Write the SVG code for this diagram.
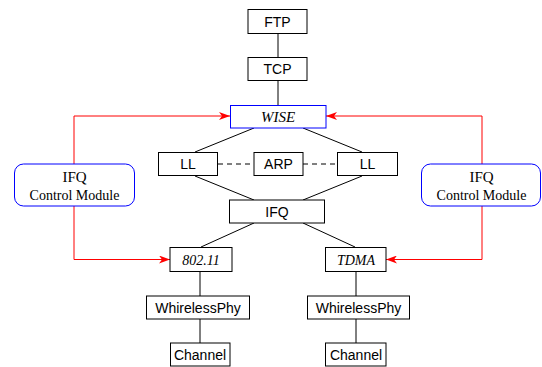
<svg xmlns="http://www.w3.org/2000/svg" width="542" height="367" viewBox="0 0 542 367">
<defs>
<style>
.box{fill:#fff;stroke:#000;stroke-width:1}
.blue{fill:#fff;stroke:#0000ff;stroke-width:1}
.t{font-family:"Liberation Sans",Arial,sans-serif;font-size:14px;text-anchor:middle;fill:#000}
.s{font-family:"Liberation Serif","Times New Roman",serif;font-size:14px;text-anchor:middle;fill:#000}
.i{font-family:"Liberation Serif","Times New Roman",serif;font-style:italic;font-size:14px;text-anchor:middle;fill:#000}
.ln{stroke:#000;stroke-width:1;fill:none}
.red{stroke:#ff0000;stroke-width:1;fill:none;marker-end:url(#ah)}
</style>
<marker id="ah" markerWidth="12" markerHeight="8" refX="11" refY="4" orient="auto" markerUnits="userSpaceOnUse">
<path d="M0,0 L11,4 L0,8 L3,4 Z" fill="#ff0000"/>
</marker>
</defs>
<rect width="542" height="367" fill="#fff"/>
<g id="connectors">
<line class="ln" x1="278" y1="33" x2="278" y2="57"/>
<line class="ln" x1="278" y1="81" x2="278" y2="105"/>
<line class="ln" x1="254" y1="128" x2="195" y2="152"/>
<line class="ln" x1="303" y1="128" x2="362" y2="152"/>
<line class="ln" x1="195" y1="176" x2="254" y2="200"/>
<line class="ln" x1="362" y1="176" x2="303" y2="200"/>
<line class="ln" x1="254" y1="223" x2="201" y2="247"/>
<line class="ln" x1="303" y1="223" x2="355" y2="247"/>
<line class="ln" x1="218" y1="164" x2="254" y2="164" stroke-dasharray="5,4"/>
<line class="ln" x1="303" y1="164" x2="337" y2="164" stroke-dasharray="5,4"/>
<line class="ln" x1="200" y1="272" x2="200" y2="296"/>
<line class="ln" x1="200" y1="319" x2="200" y2="343"/>
<line class="ln" x1="356" y1="272" x2="356" y2="296"/>
<line class="ln" x1="356" y1="319" x2="356" y2="343"/>
<polyline class="red" points="74,164 74,116 230,116"/>
<polyline class="red" points="74,206 74,259.5 170,259.5"/>
<polyline class="red" points="482,164 482,116 326,116"/>
<polyline class="red" points="482,206 482,259.5 386,259.5"/>
</g>
<g id="ftp"><rect class="box" x="248" y="9.5" width="59" height="24"/><text class="t" x="277.5" y="27">FTP</text></g>
<g id="tcp"><rect class="box" x="248" y="57.5" width="59" height="23"/><text class="t" x="277.5" y="74">TCP</text></g>
<g id="wise"><rect class="blue" x="230.5" y="105.5" width="95.5" height="22.5"/><text class="i" x="278" y="121.5" style="font-size:15px">WISE</text></g>
<g id="ll1"><rect class="box" x="158.5" y="152.5" width="59" height="23"/><text class="t" x="188" y="169">LL</text></g>
<g id="arp"><rect class="box" x="254" y="152.5" width="49" height="23"/><text class="t" x="278.5" y="169">ARP</text></g>
<g id="ll2"><rect class="box" x="337.5" y="152.5" width="60" height="23"/><text class="t" x="367.5" y="169">LL</text></g>
<g id="ifq"><rect class="box" x="229.5" y="200" width="95" height="23"/><text class="t" x="277" y="216.5">IFQ</text></g>
<g id="ifqcm1"><rect class="blue" x="14.5" y="164" width="120" height="42" rx="9"/><text class="s" x="74.5" y="182" style="font-size:15px">IFQ</text><text class="s" x="74.5" y="199.5">Control Module</text></g>
<g id="ifqcm2"><rect class="blue" x="421.5" y="164" width="119" height="42" rx="9"/><text class="s" x="481.5" y="182" style="font-size:15px">IFQ</text><text class="s" x="481.5" y="199.5">Control Module</text></g>
<g id="mac80211"><rect class="box" x="170" y="247.5" width="62" height="24"/><text class="i" x="201" y="265">802.11</text></g>
<g id="tdma"><rect class="box" x="325.5" y="247.5" width="60.5" height="24"/><text class="i" x="356" y="265">TDMA</text></g>
<g id="phy1"><rect class="box" x="146.5" y="296" width="103" height="23"/><text class="t" x="198" y="312.5">WhirelessPhy</text></g>
<g id="phy2"><rect class="box" x="307.5" y="296" width="102" height="23"/><text class="t" x="358.5" y="312.5">WhirelessPhy</text></g>
<g id="ch1"><rect class="box" x="170.5" y="343" width="59.5" height="23"/><text class="t" x="200" y="360">Channel</text></g>
<g id="ch2"><rect class="box" x="325.5" y="343" width="60.5" height="23"/><text class="t" x="356" y="360">Channel</text></g>
</svg>
